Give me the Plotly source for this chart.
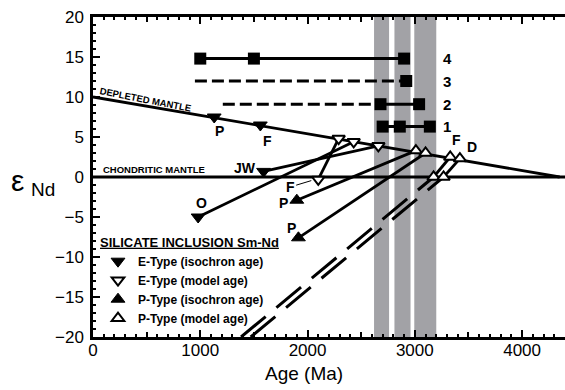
import plotly.graph_objects as go

# ---------------- data ----------------
# reference mantle curves
dm_age = [0, 4350]
dm_eps = [10.0, 0.0]
chur_age = [0, 4400]
chur_eps = [0.0, 0.0]

# shaded age bands (Ma)
band_start = [2620, 2810, 2995]
band_end = [2760, 2960, 3200]

# numbered rows of square symbols
row_ids = ["1", "2", "3", "4"]
row_eps = [6.3, 9.1, 12.0, 14.8]
row_sq_ages = [[2700, 2860, 3140], [2680, 3040], [2920], [1000, 1500, 2900]]
row_solid = [[2700, 3140], [2680, 3040], None, [1000, 2900]]
row_dash = [None, [1210, 2680], [950, 2920], None]
row_label_age = 3245

# E-type inclusions
e_iso_lab = ["P", "F", "JW", "O"]
e_iso_age = [1130, 1560, 1590, 980]
e_iso_eps = [7.5, 6.5, 0.7, -5.0]
e_mod_age = [2290, 2430, 2660, 2100]
e_mod_eps = [4.8, 4.4, 3.9, -0.3]

# P-type inclusions
p_iso_lab = ["P", "P"]
p_iso_age = [1900, 1915]
p_iso_eps = [-2.9, -7.6]
p_mod_lab = ["", "", "F", "D", "", ""]
p_mod_age = [3010, 3100, 3330, 3420, 3175, 3268]
p_mod_eps = [3.3, 3.0, 2.5, 2.3, 0.0, 0.0]

# evolution lines: (kind, index) -> (kind, index)
links = [
    (("ei", 3), ("em", 1)),
    (("ei", 2), ("em", 2)),
    (("em", 3), ("em", 0)),
    (("pi", 0), ("pm", 0)),
    (("pi", 1), ("pm", 1)),
    (("pm", 4), ("pm", 2)),
    (("pm", 5), ("pm", 3)),
]
# dashed growth lines entering from the bottom of the plot
dash_start_age = [1380, 1470]
dash_start_eps = [-20.0, -20.0]
dash_end_idx = [4, 5]

# ---------------- figure ----------------
BLACK = "black"
FONT = "Liberation Sans"
LW = 2.8
pts = {
    "ei": (e_iso_age, e_iso_eps),
    "em": (e_mod_age, e_mod_eps),
    "pi": (p_iso_age, p_iso_eps),
    "pm": (p_mod_age, p_mod_eps),
}

fig = go.Figure()

# mantle curves
fig.add_trace(go.Scatter(x=dm_age, y=dm_eps, mode="lines",
                         line=dict(color=BLACK, width=LW), showlegend=False))
fig.add_trace(go.Scatter(x=chur_age, y=chur_eps, mode="lines",
                         line=dict(color=BLACK, width=LW), showlegend=False))

# dashed growth lines
for a0, e0, j in zip(dash_start_age, dash_start_eps, dash_end_idx):
    fig.add_trace(go.Scatter(x=[a0, p_mod_age[j]], y=[e0, p_mod_eps[j]], mode="lines",
                             line=dict(color=BLACK, width=3, dash="32px,14px"),
                             showlegend=False))

# evolution lines
for (k0, i0), (k1, i1) in links:
    xs = [pts[k0][0][i0], pts[k1][0][i1]]
    ys = [pts[k0][1][i0], pts[k1][1][i1]]
    fig.add_trace(go.Scatter(x=xs, y=ys, mode="lines",
                             line=dict(color=BLACK, width=LW), showlegend=False))

# rows of squares
for rid, eps, sq, sol, dsh in zip(row_ids, row_eps, row_sq_ages, row_solid, row_dash):
    if dsh:
        fig.add_trace(go.Scatter(x=dsh, y=[eps] * len(dsh), mode="lines",
                                 line=dict(color=BLACK, width=3, dash="12px,5px"),
                                 showlegend=False))
    if sol:
        fig.add_trace(go.Scatter(x=sol, y=[eps] * len(sol), mode="lines",
                                 line=dict(color=BLACK, width=3), showlegend=False))
    fig.add_trace(go.Scatter(x=sq, y=[eps] * len(sq), mode="markers",
                             marker=dict(symbol="square", size=12, color=BLACK),
                             showlegend=False))
    fig.add_annotation(x=row_label_age, y=eps, text=rid, showarrow=False,
                       xanchor="left", yanchor="middle",
                       font=dict(family=FONT, size=15, color=BLACK, weight="bold"))

# symbol traces (legend)
fig.add_trace(go.Scatter(x=e_iso_age, y=e_iso_eps, mode="markers", name="E-Type (isochron age)",
                         marker=dict(symbol="triangle-down", size=12, color=BLACK,
                                     line=dict(color=BLACK, width=1))))
fig.add_trace(go.Scatter(x=e_mod_age, y=e_mod_eps, mode="markers", name="E-Type (model age)",
                         marker=dict(symbol="triangle-down", size=11, color="white",
                                     line=dict(color=BLACK, width=2))))
fig.add_trace(go.Scatter(x=p_iso_age, y=p_iso_eps, mode="markers", name="P-Type (isochron age)",
                         marker=dict(symbol="triangle-up", size=12, color=BLACK,
                                     line=dict(color=BLACK, width=1))))
fig.add_trace(go.Scatter(x=p_mod_age, y=p_mod_eps, mode="markers", name="P-Type (model age)",
                         marker=dict(symbol="triangle-up", size=11, color="white",
                                     line=dict(color=BLACK, width=2))))

# shaded bands
for b0, b1 in zip(band_start, band_end):
    fig.add_shape(type="rect", xref="x", yref="paper", x0=b0, x1=b1, y0=0, y1=1,
                  fillcolor="#a2a2a6", line=dict(width=0), layer="below")

# point labels
lab_font = dict(family=FONT, size=14, color=BLACK, weight="bold")
e_lab_pos = [(1175, 5.7), (1625, 4.5), (1420, 1.1), (1015, -3.3)]
for t, (lx, ly) in zip(e_iso_lab, e_lab_pos):
    fig.add_annotation(x=lx, y=ly, text=t, showarrow=False, font=lab_font)
p_lab_pos = [(1775, -3.2), (1855, -6.4)]
for t, (lx, ly) in zip(p_iso_lab, p_lab_pos):
    fig.add_annotation(x=lx, y=ly, text=t, showarrow=False, font=lab_font)
pm_lab_pos = {2: (3385, 4.6), 3: (3535, 3.7)}
for i, (lx, ly) in pm_lab_pos.items():
    fig.add_annotation(x=lx, y=ly, text=p_mod_lab[i], showarrow=False, font=lab_font)
# F label with leader to the open E-type symbol
fig.add_annotation(x=2035, y=-0.45, ax=1838, ay=-1.25, axref="x", ayref="y",
                   text="F", showarrow=True, arrowhead=0, arrowwidth=1, arrowcolor=BLACK,
                   standoff=0, font=lab_font)

# curve labels
fig.add_annotation(x=490, y=9.7, text="DEPLETED MANTLE", textangle=11, showarrow=False,
                   font=dict(family=FONT, size=9.5, color=BLACK, weight="bold"))
fig.add_annotation(x=570, y=0.9, text="CHONDRITIC MANTLE", showarrow=False,
                   font=dict(family=FONT, size=9.5, color=BLACK, weight="bold"))

# axis titles
fig.add_annotation(xref="paper", yref="paper", x=0.446, y=-0.115, xanchor="center",
                   yanchor="middle", text="Age (Ma)", showarrow=False,
                   font=dict(family=FONT, size=19, color=BLACK))
fig.add_annotation(xref="paper", yref="paper", x=-0.160, y=0.49, xanchor="center",
                   yanchor="middle", text="ε", showarrow=False,
                   font=dict(family=FONT, size=30, color=BLACK))
fig.add_annotation(xref="paper", yref="paper", x=-0.106, y=0.46, xanchor="center",
                   yanchor="middle", text="Nd", showarrow=False,
                   font=dict(family=FONT, size=19, color=BLACK))

fig.update_layout(
    width=565, height=390,
    margin=dict(l=93, r=0, t=17, b=53),
    paper_bgcolor="white", plot_bgcolor="white",
    font=dict(family=FONT, color=BLACK),
    legend=dict(
        x=0.0106, y=0.335, xanchor="left", yanchor="top",
        bgcolor="rgba(0,0,0,0)", borderwidth=0,
        font=dict(family=FONT, size=12, color=BLACK, weight="bold"),
        title=dict(text='<span style="text-decoration:underline">SILICATE INCLUSION Sm-Nd</span>',
                   font=dict(family=FONT, size=13, color=BLACK, weight="bold")),
        itemwidth=30, tracegroupgap=0,
    ),
    xaxis=dict(
        range=[0, 4400], dtick=1000, tick0=0,
        showline=True, linecolor=BLACK, linewidth=2.5, mirror="ticks",
        ticks="inside", ticklen=7, tickwidth=2, tickcolor=BLACK,
        minor=dict(dtick=100, ticks="inside", ticklen=3.5, tickwidth=1.5, tickcolor=BLACK),
        showgrid=False, zeroline=False, ticklabelstandoff=-4,
        tickfont=dict(family=FONT, size=17, color=BLACK),
    ),
    xaxis2=dict(
        overlaying="x", matches="x", range=[0, 4400], dtick=500, tick0=0,
        showline=False, mirror="ticks", ticks="inside", ticklen=5, tickwidth=1.5,
        tickcolor=BLACK, showticklabels=False, showgrid=False, zeroline=False,
    ),
    yaxis=dict(
        range=[-20, 20], dtick=5, tick0=0,
        showline=True, linecolor=BLACK, linewidth=2.5, mirror=False,
        ticks="inside", ticklen=7, tickwidth=2, tickcolor=BLACK,
        minor=dict(dtick=1, ticks="inside", ticklen=3.5, tickwidth=1.5, tickcolor=BLACK),
        showgrid=False, zeroline=False, ticklabelstandoff=3,
        tickfont=dict(family=FONT, size=17, color=BLACK),
    ),
)
# invisible trace to activate the medium-tick overlay axis
fig.add_trace(go.Scatter(x=[0], y=[0], xaxis="x2", mode="markers",
                         marker=dict(opacity=0), showlegend=False, hoverinfo="skip"))

fig.write_html("out.html")
